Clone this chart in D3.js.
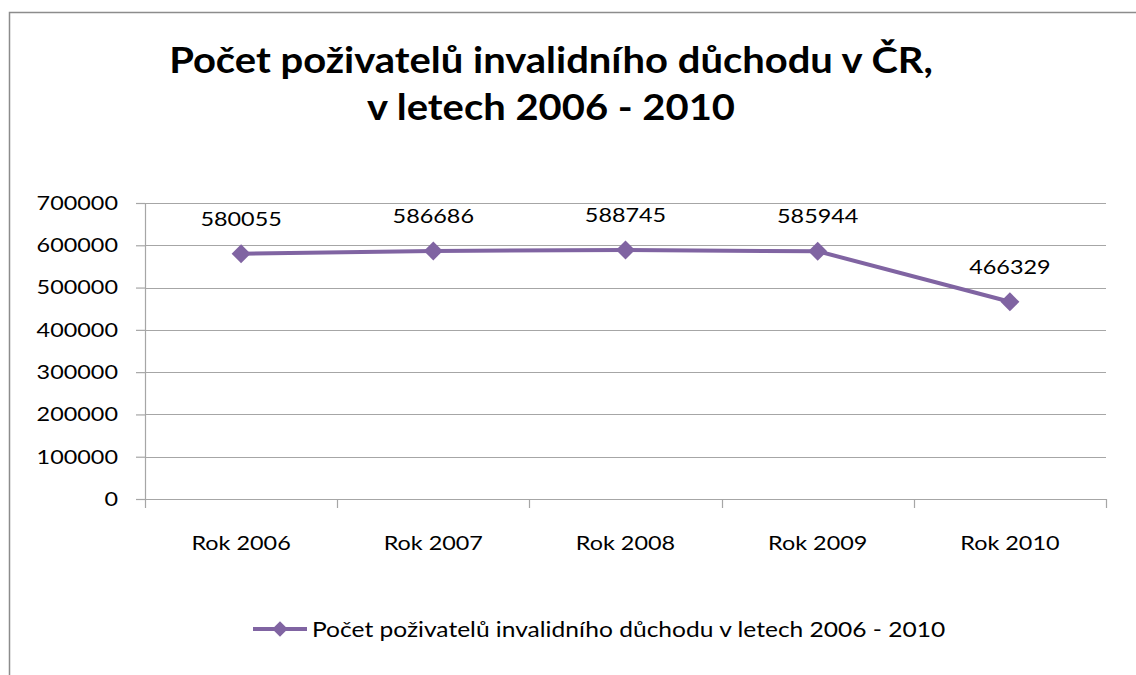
<!DOCTYPE html>
<html>
<head>
<meta charset="utf-8">
<script src="https://cdn.jsdelivr.net/npm/d3@7"></script>
<style>
  body { margin: 0; background: #fff; overflow: hidden; }
  svg { display: block; }
  text { font-family: Lato, "Open Sans", sans-serif; fill: #000; }
</style>
</head>
<body>
<script>
// data
const categories = ["Rok 2006", "Rok 2007", "Rok 2008", "Rok 2009", "Rok 2010"]
const values = [580055, 586686, 588745, 585944, 466329]
const yTicks = [0, 100000, 200000, 300000, 400000, 500000, 600000, 700000]
const titleLines = ["Počet poživatelů invalidního důchodu v ČR,", "v letech 2006 - 2010"]
const seriesName = "Počet poživatelů invalidního důchodu v letech 2006 - 2010"

const W = 1136, H = 675
const margin = {top: 203, right: 30, bottom: 176, left: 145}
const purple = "#8064a2"
const gridCol = "#a6a6a6"

// the original picture is stretched sideways, so text gets a horizontal scale
function stretch(sel, sx) {
    sel.each(function() {
        const t = d3.select(this)
        const x = +t.attr("x") || 0, y = +t.attr("y") || 0
        t.attr("x", 0).attr("y", 0)
         .attr("transform", "translate(" + x + "," + y + ") scale(" + sx + ",1)")
    })
}

const svg = d3.select("body").append("svg")
    .attr("width", W)
    .attr("height", H)

// chart frame (only top and left edges are in the picture)
svg.append("path")
    .attr("d", "M9.5," + H + "V12.5H" + W)
    .attr("fill", "none")
    .attr("stroke", "#8c8c8c")
    .attr("stroke-width", 1.5)

// scales
const xScale = d3.scaleBand()
    .domain(categories)
    .range([margin.left, W - margin.right])

const yScale = d3.scaleLinear()
    .domain([0, 700000])
    .range([H - margin.bottom, margin.top])

// gridlines
svg.append("g")
    .selectAll("line")
    .data(yTicks.filter(d => d > 0))
    .join("line")
    .attr("x1", margin.left).attr("x2", W - margin.right)
    .attr("y1", d => Math.round(yScale(d)) + 0.5)
    .attr("y2", d => Math.round(yScale(d)) + 0.5)
    .attr("stroke", gridCol)
    .attr("stroke-width", 1.2)

// y axis
const yAxis = svg.append("g")
    .attr("transform", "translate(" + margin.left + ",0)")
    .call(d3.axisLeft(yScale).tickValues(yTicks).tickSize(9).tickPadding(18).tickFormat(d3.format("d")))
yAxis.select(".domain").attr("stroke", gridCol).attr("stroke-width", 1.2)
yAxis.selectAll(".tick line").attr("stroke", gridCol).attr("stroke-width", 1.2)
yAxis.selectAll(".tick text")
    .attr("font-size", "20px")
    .attr("font-family", "Lato, sans-serif")
    .attr("fill", "#000")
    .call(stretch, 1.17)

// x axis: ticks sit between the categories
const xAxisG = svg.append("g")
    .attr("transform", "translate(0," + (H - margin.bottom) + ")")
xAxisG.append("line")
    .attr("x1", margin.left).attr("x2", W - margin.right)
    .attr("y1", 0.5).attr("y2", 0.5)
    .attr("stroke", gridCol).attr("stroke-width", 1.2)
const bounds = categories.map(c => xScale(c)).concat([W - margin.right])
xAxisG.selectAll(".xtick").data(bounds)
    .join("line")
    .attr("x1", d => Math.round(d) + 0.5).attr("x2", d => Math.round(d) + 0.5)
    .attr("y1", 0).attr("y2", 9)
    .attr("stroke", gridCol).attr("stroke-width", 1.2)
xAxisG.selectAll(".xlabel").data(categories)
    .join("text")
    .attr("x", d => xScale(d) + xScale.bandwidth() / 2)
    .attr("y", 51)
    .attr("text-anchor", "middle")
    .attr("font-size", "20px")
    .text(d => d)
    .call(stretch, 1.17)

// the line
const pts = categories.map((c, i) => ({cat: c, v: values[i]}))
const line = d3.line()
    .x(d => xScale(d.cat) + xScale.bandwidth() / 2)
    .y(d => yScale(d.v))
svg.append("path")
    .datum(pts)
    .attr("d", line)
    .attr("fill", "none")
    .attr("stroke", purple)
    .attr("stroke-width", 4)
    .attr("stroke-linejoin", "round")

const marker = d3.symbol().type(d3.symbolSquare).size(180)
svg.selectAll(".marker").data(pts)
    .join("path")
    .attr("transform", d => "translate(" + (xScale(d.cat) + xScale.bandwidth() / 2) + "," + yScale(d.v) + ") rotate(45)")
    .attr("d", marker)
    .attr("fill", purple)

// data labels
svg.selectAll(".dlabel").data(pts)
    .join("text")
    .attr("x", d => xScale(d.cat) + xScale.bandwidth() / 2)
    .attr("y", d => yScale(d.v) - 28)
    .attr("text-anchor", "middle")
    .attr("font-size", "20px")
    .text(d => d.v)
    .call(stretch, 1.17)

// title
svg.selectAll(".title").data(titleLines)
    .join("text")
    .attr("x", 551)
    .attr("y", (d, i) => 73 + i * 47)
    .attr("text-anchor", "middle")
    .attr("font-size", "36px")
    .attr("font-weight", "bold")
    .text(d => d)
    .call(stretch, 1.11)

// legend
const legend = svg.append("g").attr("transform", "translate(253,629)")
legend.append("line")
    .attr("x1", 0).attr("x2", 54)
    .attr("stroke", purple).attr("stroke-width", 4)
legend.append("path")
    .attr("transform", "translate(27,0) rotate(45)")
    .attr("d", d3.symbol().type(d3.symbolSquare).size(120))
    .attr("fill", purple)
legend.append("text")
    .attr("x", 59).attr("y", 8)
    .attr("font-size", "21px")
    .text(seriesName)
    .call(stretch, 1.17)
</script>
</body>
</html>
